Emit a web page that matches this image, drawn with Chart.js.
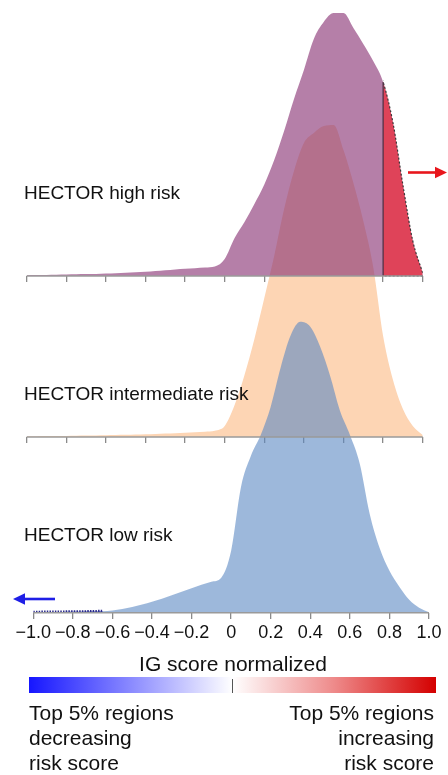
<!DOCTYPE html>
<html>
<head>
<meta charset="utf-8">
<script src="https://cdn.jsdelivr.net/npm/chart.js@4.4.1/dist/chart.umd.min.js"></script>
<style>
html,body{margin:0;padding:0;background:#fff;}
#wrap{position:relative;width:448px;height:775px;overflow:hidden;font-family:"Liberation Sans",Arial,sans-serif;color:#111;}
#c{position:absolute;left:0;top:0;}
.lbl{position:absolute;left:24px;font-size:19px;line-height:1;white-space:nowrap;}
#title{position:absolute;left:233px;top:653px;transform:translateX(-50%);font-size:21px;line-height:1;white-space:nowrap;}
#bar{position:absolute;left:29px;top:677px;width:407px;height:16px;background:linear-gradient(to right,#1616ff 0%,#8a8aff 25%,#ffffff 50%,#ee8a8a 75%,#d40000 100%);}
#barmid{position:absolute;left:232px;top:679px;width:1px;height:14px;background:#555;}
.note{position:absolute;top:700px;font-size:21px;line-height:25px;white-space:nowrap;}
#noteL{left:29px;text-align:left;}
#noteR{right:14px;text-align:right;}
</style>
</head>
<body>
<div id="wrap">
<canvas id="c" width="448" height="775"></canvas>
<div class="lbl" style="top:183px">HECTOR high risk</div>
<div class="lbl" style="top:384px">HECTOR intermediate risk</div>
<div class="lbl" style="top:525px">HECTOR low risk</div>
<div id="title">IG score normalized</div>
<div id="bar"></div>
<div id="barmid"></div>
<div class="note" id="noteL">Top 5% regions<br>decreasing<br>risk score</div>
<div class="note" id="noteR">Top 5% regions<br>increasing<br>risk score</div>
</div>
<script>
// IG score grid (x) at which the densities were read
const igScore = [-1.0,-0.95,-0.9,-0.85,-0.8,-0.75,-0.7,-0.65,-0.6,-0.55,-0.5,-0.45,-0.4,-0.35,-0.3,-0.25,-0.2,-0.15,-0.1,-0.05,
  0.0,0.05,0.1,0.15,0.2,0.25,0.3,0.35,0.4,0.45,0.5,0.55,0.6,0.65,0.7,0.75,0.8,0.85,0.9,0.95,1.0];

// density of IG scores per HECTOR risk group
const highRisk = [0.007,0.009,0.011,0.013,0.015,0.017,0.019,0.021,0.024,0.028,0.032,0.037,0.042,0.050,0.058,0.066,0.072,0.078,0.085,0.095,
  0.17,0.38,0.54,0.72,0.915,1.16,1.45,1.77,2.06,2.37,2.54,2.63,2.63,2.48,2.32,2.15,1.94,1.53,0.91,0.35,0.03];
const intermediateRisk = [0.007,0.008,0.009,0.010,0.011,0.012,0.014,0.016,0.018,0.020,0.022,0.025,0.028,0.031,0.034,0.038,0.042,0.047,0.053,0.063,
  0.11,0.32,0.62,0.98,1.39,1.81,2.28,2.66,2.94,3.04,3.11,3.12,2.87,2.54,2.16,1.70,1.01,0.57,0.28,0.11,0.02];
const lowRisk = [0.005,0.006,0.007,0.008,0.009,0.010,0.012,0.015,0.022,0.038,0.056,0.082,0.11,0.14,0.175,0.21,0.245,0.28,0.31,0.35,
  0.62,1.26,1.57,1.78,2.06,2.45,2.77,2.91,2.86,2.66,2.37,2.02,1.78,1.49,0.99,0.65,0.42,0.26,0.13,0.05,0.005];

// axis ticks
const tickValues = [-1.0,-0.8,-0.6,-0.4,-0.2,0,0.2,0.4,0.6,0.8,1.0];
const tickLabels = ['\u22121.0','\u22120.8','\u22120.6','\u22120.4','\u22120.2','0','0.2','0.4','0.6','0.8','1.0'];

// top-5% thresholds
const topIncreasingFrom = 0.8;
const topDecreasingTo = -0.65;

// ridge baselines (density units on the shared vertical scale)
const ridgeBase = {high: 3.367, mid: 1.757, low: 0};

const series = (vals, base) => igScore.map((x, i) => ({x: x, y: base + vals[i]}));
const iThr = igScore.indexOf(topIncreasingFrom);

const commonLine = {pointRadius: 0, pointHoverRadius: 0, borderWidth: 0, cubicInterpolationMode: 'monotone'};

const datasets = [
  Object.assign({}, commonLine, {label: 'top5dec', xAxisID: 'xLow', data: series(lowRisk, ridgeBase.low),
    fill: {value: ridgeBase.low}, backgroundColor: 'rgba(40,45,160,0.75)', borderColor: '#2a2a8c', borderWidth: 3,
    borderDash: [1.5, 1.2], clipRange: [-1.0, topDecreasingTo], order: 0}),
  Object.assign({}, commonLine, {label: 'edge', xAxisID: 'xHigh',
    data: [{x: 1.0, y: ridgeBase.high}, {x: topIncreasingFrom, y: ridgeBase.high}, {x: topIncreasingFrom, y: ridgeBase.high + highRisk[iThr]}],
    fill: false, borderColor: '#4a3045', borderWidth: 1.2, cubicInterpolationMode: 'default', tension: 0,
    segment: {borderDash: c => c.p0DataIndex === 0 ? [2, 2] : undefined}, order: 1}),
  Object.assign({}, commonLine, {label: 'top5inc', xAxisID: 'xHigh', data: series(highRisk, ridgeBase.high),
    fill: {value: ridgeBase.high}, backgroundColor: '#df4359', borderColor: '#3a3a3a', borderWidth: 1.2,
    borderDash: [2, 2], clipRange: [topIncreasingFrom, 1.0], order: 2}),
  Object.assign({}, commonLine, {label: 'HECTOR low risk', xAxisID: 'xLow', data: series(lowRisk, ridgeBase.low),
    fill: {value: ridgeBase.low}, backgroundColor: 'rgba(92,137,195,0.6)', order: 3}),
  Object.assign({}, commonLine, {label: 'HECTOR high risk', xAxisID: 'xHigh', data: series(highRisk, ridgeBase.high),
    fill: {value: ridgeBase.high}, backgroundColor: 'rgba(138,52,117,0.63)', order: 4}),
  Object.assign({}, commonLine, {label: 'HECTOR intermediate risk', xAxisID: 'xMid', data: series(intermediateRisk, ridgeBase.mid),
    fill: {value: ridgeBase.mid}, backgroundColor: 'rgb(253,213,180)', order: 5})
];

function xAxis(base, showLabels, min, max) {
  return {
    type: 'linear', min: min, max: max, position: {y: base}, z: 1,
    afterBuildTicks: s => { s.ticks = tickValues.map(v => ({value: v})); },
    afterFit: s => { s.height = 0; },
    grid: {drawOnChartArea: false, drawTicks: true, tickLength: 6, color: '#8a8a8a', lineWidth: 1.3},
    border: {display: false},
    ticks: {display: showLabels, autoSkip: false, maxRotation: 0, minRotation: 0, padding: 4, color: '#111',
      font: {family: '"Liberation Sans", Arial, sans-serif', size: 18},
      callback: (v, i) => tickLabels[i]}
  };
}

// clip selected datasets (fill + border) to an x range; must run before the Filler plugin
const clipPlugin = {
  id: 'clipRange',
  beforeDatasetDraw(chart, args) {
    const ds = chart.data.datasets[args.index];
    if (!ds.clipRange) return;
    const sx = chart.scales[ds.xAxisID];
    const a = chart.chartArea;
    const x0 = sx.getPixelForValue(ds.clipRange[0]);
    const x1 = sx.getPixelForValue(ds.clipRange[1]);
    chart.ctx.save();
    chart.ctx.beginPath();
    chart.ctx.rect(x0, a.top, x1 - x0, a.bottom - a.top + 2);
    chart.ctx.clip();
  },
  afterDatasetDraw(chart, args) {
    const ds = chart.data.datasets[args.index];
    if (ds.clipRange) chart.ctx.restore();
  }
};
const FillerPlugin = Chart.Filler || Chart.registry.getPlugin('filler');
Chart.unregister(FillerPlugin);
Chart.register(clipPlugin);
Chart.register(FillerPlugin);

const axisLinePlugin = {
  id: 'axisLines',
  afterDatasetsDraw(chart) {
    const ctx = chart.ctx, sy = chart.scales.y;
    [['xHigh', ridgeBase.high], ['xMid', ridgeBase.mid], ['xLow', ridgeBase.low]].forEach(([id, b]) => {
      const sx = chart.scales[id];
      const y = sy.getPixelForValue(b);
      ctx.save();
      ctx.strokeStyle = '#9a9a9a';
      ctx.lineWidth = 1.4;
      ctx.beginPath();
      ctx.moveTo(sx.getPixelForValue(tickValues[0]), y);
      ctx.lineTo(sx.getPixelForValue(tickValues[tickValues.length - 1]), y);
      ctx.stroke();
      ctx.restore();
    });
  },
  afterDraw(chart) {
    const ctx = chart.ctx;
    function arrow(xFrom, xTo, y, color) {
      const dir = Math.sign(xTo - xFrom);
      ctx.save();
      ctx.strokeStyle = color; ctx.fillStyle = color; ctx.lineWidth = 2.6;
      ctx.beginPath(); ctx.moveTo(xFrom, y); ctx.lineTo(xTo - dir * 10, y); ctx.stroke();
      ctx.beginPath(); ctx.moveTo(xTo, y); ctx.lineTo(xTo - dir * 12, y - 5.8); ctx.lineTo(xTo - dir * 12, y + 5.8); ctx.closePath(); ctx.fill();
      ctx.restore();
    }
    arrow(408, 447, 172.5, '#e8161c');
    arrow(55, 13, 599, '#1f1fe6');
  }
};

new Chart(document.getElementById('c'), {
  type: 'line',
  data: {datasets: datasets},
  options: {
    responsive: false, animation: false, devicePixelRatio: 1,
    layout: {padding: {left: 26.7, right: 19, top: 0, bottom: 162.3}},
    plugins: {legend: {display: false}, tooltip: {enabled: false}, filler: {propagate: false}},
    scales: {
      y: {type: 'linear', display: false, min: 0, max: 6.127},
      xHigh: xAxis(ridgeBase.high, false, -1.0, 1.0318),
      xMid: xAxis(ridgeBase.mid, false, -1.0, 1.0318),
      xLow: xAxis(ridgeBase.low, true, -1.0333, 1.0)
    }
  },
  plugins: [axisLinePlugin]
});
</script>
</body>
</html>
